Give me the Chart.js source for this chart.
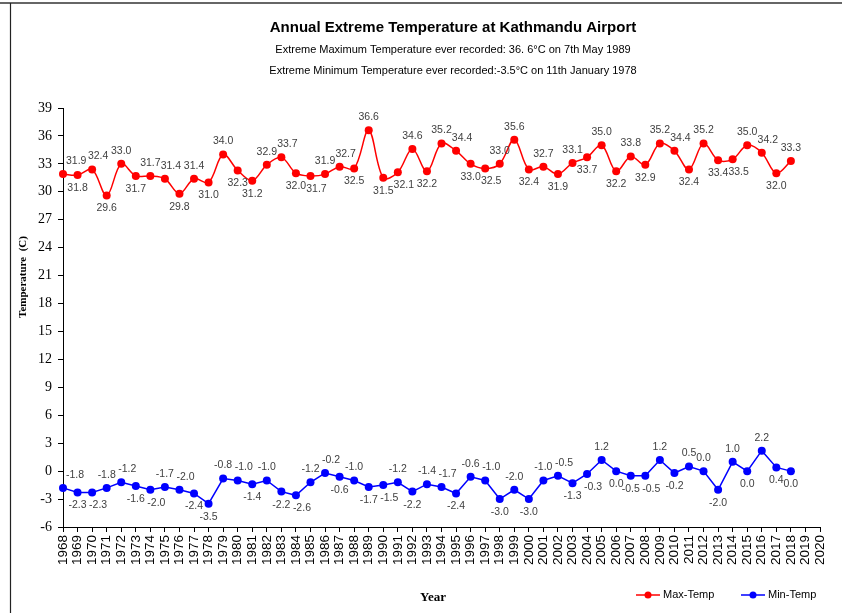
<!DOCTYPE html>
<html>
<head>
<meta charset="utf-8">
<script src="https://cdn.jsdelivr.net/npm/chart.js@4.4.1/dist/chart.umd.min.js"></script>
<style>
  html, body { margin: 0; padding: 0; background: #fff; }
  #wrap { position: relative; width: 842px; height: 613px; }
</style>
</head>
<body>
<div id="wrap"><canvas id="chart" width="842" height="613"></canvas></div>
<script>
// categories on the x axis (the axis runs two years past the data)
const years = [
  "1968", "1969", "1970", "1971", "1972", "1973", "1974", "1975", "1976", "1977",
  "1978", "1979", "1980", "1981", "1982", "1983", "1984", "1985", "1986", "1987",
  "1988", "1989", "1990", "1991", "1992", "1993", "1994", "1995", "1996", "1997",
  "1998", "1999", "2000", "2001", "2002", "2003", "2004", "2005", "2006", "2007",
  "2008", "2009", "2010", "2011", "2012", "2013", "2014", "2015", "2016", "2017",
  "2018", "2019", "2020"
];

// annual extreme maximum, 1968 - 2018
const maxTemp = [
  31.9, 31.8, 32.4, 29.6, 33.0, 31.7, 31.7, 31.4, 29.8, 31.4,
  31.0, 34.0, 32.3, 31.2, 32.9, 33.7, 32.0, 31.7, 31.9, 32.7,
  32.5, 36.6, 31.5, 32.1, 34.6, 32.2, 35.2, 34.4, 33.0, 32.5,
  33.0, 35.6, 32.4, 32.7, 31.9, 33.1, 33.7, 35.0, 32.2, 33.8,
  32.9, 35.2, 34.4, 32.4, 35.2, 33.4, 33.5, 35.0, 34.2, 32.0,
  33.3
];

// annual extreme minimum, 1968 - 2018
const minTemp = [
  -1.8, -2.3, -2.3, -1.8, -1.2, -1.6, -2.0, -1.7, -2.0, -2.4,
  -3.5, -0.8, -1.0, -1.4, -1.0, -2.2, -2.6, -1.2, -0.2, -0.6,
  -1.0, -1.7, -1.5, -1.2, -2.2, -1.4, -1.7, -2.4, -0.6, -1.0,
  -3.0, -2.0, -3.0, -1.0, -0.5, -1.3, -0.3, 1.2, 0.0, -0.5,
  -0.5, 1.2, -0.2, 0.5, 0.0, -2.0, 1.0, 0.0, 2.2, 0.4,
  0.0
];

const yMin = -6;
const yMax = 39;
const yStep = 3;

const titleText = "Annual Extreme Temperature at Kathmandu Airport";
const subTitles = [
  "Extreme Maximum Temperature ever recorded: 36. 6\u00B0C on 7th May 1989",
  "Extreme Minimum Temperature ever recorded:-3.5\u00B0C on 11th January 1978"
];
const yTitle = "Temperature  (C)";
const xTitle = "Year";

const SANS = '"Liberation Sans", Arial, sans-serif';
const SERIF = '"Liberation Serif", "Times New Roman", serif';

// value labels next to each point, above peaks and below dips;
// on a clash it is nudged sideways, then tried on the other side,
// and left out if nothing fits
const pointLabels = {
  id: "pointLabels",
  afterDatasetsDraw(chart) {
    const ctx = chart.ctx;
    const area = chart.chartArea;
    ctx.save();
    ctx.font = "10.5px " + SANS;
    ctx.fillStyle = "#404040";
    ctx.textAlign = "center";
    ctx.textBaseline = "middle";
    const placed = [];
    const clash = (b) => placed.some((p) => b.l < p.r && b.r > p.l && b.t < p.b && b.b > p.t);
    chart.data.datasets.forEach((ds, di) => {
      const meta = chart.getDatasetMeta(di);
      meta.data.forEach((pt, i) => {
        const v = ds.data[i];
        if (v == null) return;
        const nb = [ds.data[i - 1], ds.data[i + 1]].filter((x) => x != null);
        const avg = nb.reduce((a, b) => a + b, 0) / nb.length;
        const dy = v >= avg ? -13 : 13;
        const txt = v.toFixed(1);
        const w = ctx.measureText(txt).width;
        const tries = [[0, dy], [6, dy], [-6, dy], [0, -dy], [6, -dy]];
        for (const [dx, oy] of tries) {
          let cx = pt.x + dx;
          if (cx - w / 2 < area.left + 3) cx = area.left + 3 + w / 2;
          const cy = pt.y + oy;
          const box = { l: cx - w / 2 + 1, r: cx + w / 2 - 1, t: cy - 5, b: cy + 5 };
          if (clash(box)) continue;
          placed.push(box);
          ctx.fillText(txt, cx, cy);
          break;
        }
      });
    });
    ctx.restore();
  }
};

// frame, titles, axis titles and legend
const decorations = {
  id: "decorations",
  afterDraw(chart) {
    const ctx = chart.ctx;
    ctx.save();

    ctx.strokeStyle = "#666";
    ctx.lineWidth = 2;
    ctx.beginPath();
    ctx.moveTo(0, 3);
    ctx.lineTo(842, 3);
    ctx.stroke();
    ctx.strokeStyle = "#222";
    ctx.lineWidth = 1.2;
    ctx.beginPath();
    ctx.moveTo(10.5, 3);
    ctx.lineTo(10.5, 613);
    ctx.stroke();

    ctx.fillStyle = "#000";
    ctx.textAlign = "center";
    ctx.textBaseline = "middle";
    ctx.font = "bold 15px " + SANS;
    ctx.fillText(titleText, 453, 28);
    ctx.font = "11px " + SANS;
    ctx.fillText(subTitles[0], 453, 50);
    ctx.fillText(subTitles[1], 453, 71);

    ctx.font = "bold 13px " + SERIF;
    ctx.fillText(xTitle, 433, 598);

    ctx.save();
    ctx.translate(23, 277);
    ctx.rotate(-Math.PI / 2);
    ctx.font = "bold 11px " + SERIF;
    ctx.fillText(yTitle, 0, 0);
    ctx.restore();

    // legend
    const spots = [636, 741];
    ctx.font = "11px " + SANS;
    ctx.textAlign = "left";
    chart.data.datasets.forEach((ds, i) => {
      const x = spots[i];
      const y = 595;
      ctx.strokeStyle = ds.borderColor;
      ctx.lineWidth = 1.5;
      ctx.beginPath();
      ctx.moveTo(x, y);
      ctx.lineTo(x + 24, y);
      ctx.stroke();
      ctx.fillStyle = ds.backgroundColor;
      ctx.beginPath();
      ctx.arc(x + 12, y, 3.5, 0, Math.PI * 2);
      ctx.fill();
      ctx.fillStyle = "#000";
      ctx.fillText(ds.label, x + 27, y);
    });

    ctx.restore();
  }
};

new Chart(document.getElementById("chart"), {
  type: "line",
  data: {
    labels: years,
    datasets: [
      {
        label: "Max-Temp",
        data: maxTemp,
        borderColor: "#FF0000",
        backgroundColor: "#FF0000",
        borderWidth: 1.5,
        pointRadius: 4,
        pointBorderWidth: 0,
        tension: 0.35,
        clip: false
      },
      {
        label: "Min-Temp",
        data: minTemp,
        borderColor: "#0000FF",
        backgroundColor: "#0000FF",
        borderWidth: 1.5,
        pointRadius: 4,
        pointBorderWidth: 0,
        tension: 0,
        clip: false
      }
    ]
  },
  options: {
    responsive: false,
    animation: false,
    devicePixelRatio: 1,
    layout: { padding: { top: 108, left: 33, right: 22, bottom: 36 } },
    plugins: {
      legend: { display: false },
      title: { display: false },
      tooltip: { enabled: false }
    },
    scales: {
      x: {
        type: "category",
        offset: false,
        afterFit: (scale) => { scale.height = 50; },
        grid: { drawOnChartArea: false, drawTicks: true, tickLength: 5, color: "#000" },
        border: { display: true, color: "#000", width: 1 },
        ticks: {
          autoSkip: false,
          minRotation: 90,
          maxRotation: 90,
          padding: 3,
          color: "#000",
          font: { family: SANS, size: 13.5 }
        }
      },
      y: {
        min: yMin,
        max: yMax,
        afterFit: (scale) => { scale.width = 30; },
        grid: { drawOnChartArea: false, drawTicks: true, tickLength: 5, color: "#000" },
        border: { display: true, color: "#000", width: 1 },
        ticks: {
          stepSize: yStep,
          padding: 6,
          color: "#000",
          font: { family: SERIF, size: 14 }
        }
      }
    }
  },
  plugins: [pointLabels, decorations]
});
</script>
</body>
</html>
